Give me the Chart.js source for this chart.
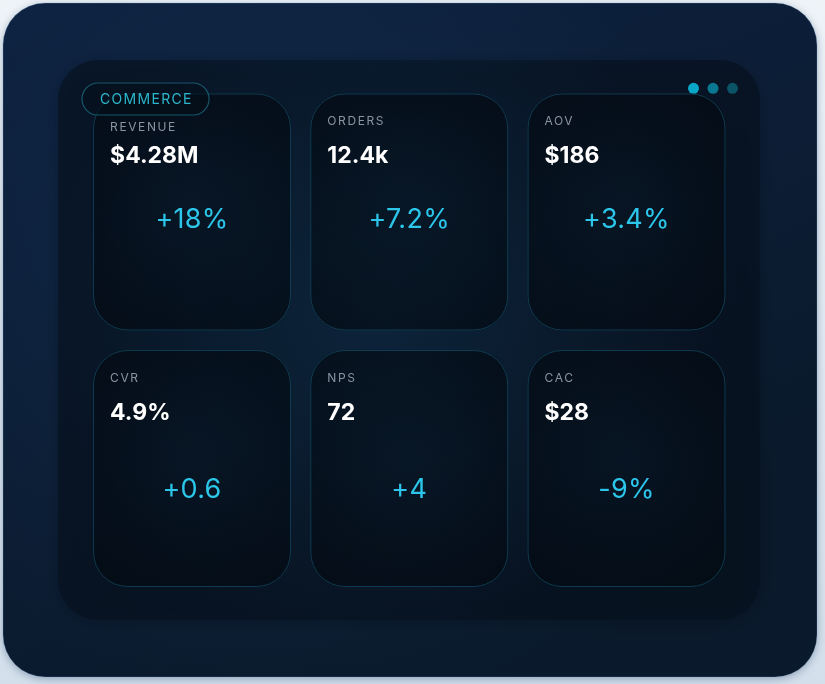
<!DOCTYPE html>
<html>
<head>
<meta charset="utf-8">
<script src="https://cdn.jsdelivr.net/npm/chart.js@4.4.1/dist/chart.umd.min.js"></script>
<style>
  html, body { margin: 0; padding: 0; background: #dfe8f1; }
  #wrap { width: 825px; height: 684px; position: relative; }
  canvas { display: block; }
</style>
</head>
<body>
<div id="wrap"><canvas id="c" width="825" height="684"></canvas></div>
<script>
// ---- data ----
const groupTitle = "COMMERCE";
const metricNames = ["REVENUE", "ORDERS", "AOV", "CVR", "NPS", "CAC"];
const metricValues = ["$4.28M", "12.4k", "$186", "4.9%", "72", "$28"];
const metricDeltas = ["+18%", "+7.2%", "+3.4%", "+0.6", "+4", "-9%"];
const gridCols = [0, 1, 2, 0, 1, 2];
const gridRows = [0, 0, 0, 1, 1, 1];

// ---- layout / style constants ----
const CARD_W = 0.911, CARD_H = 0.924, CARD_R = 34;
const labelShift = [6, 0, 0, 0, 0, 0];
const deltaShiftRow = [7.5, 21];

function rr(ctx, x, y, w, h, r) {
  ctx.beginPath();
  ctx.moveTo(x + r, y);
  ctx.arcTo(x + w, y, x + w, y + h, r);
  ctx.arcTo(x + w, y + h, x, y + h, r);
  ctx.arcTo(x, y + h, x, y, r);
  ctx.arcTo(x, y, x + w, y, r);
  ctx.closePath();
}

const backdrop = {
  id: 'backdrop',
  beforeDraw(chart) {
    const ctx = chart.ctx;
    ctx.save();
    const pg = ctx.createLinearGradient(0, 0, 0, 684);
    pg.addColorStop(0, '#eef3f8'); pg.addColorStop(1, '#d3dfeb');
    ctx.fillStyle = pg; ctx.fillRect(0, 0, 825, 684);
    ctx.shadowColor = 'rgba(20,50,90,0.35)'; ctx.shadowBlur = 8; ctx.shadowOffsetY = 2;
    const og = ctx.createLinearGradient(0, 0, 300, 684);
    og.addColorStop(0, '#0e2342'); og.addColorStop(1, '#0a192b');
    rr(ctx, 3, 3, 814, 674, 42);
    ctx.fillStyle = og; ctx.fill();
    ctx.shadowColor = 'transparent';
    ctx.strokeStyle = 'rgba(140,180,220,0.25)'; ctx.lineWidth = 1; ctx.stroke();
    ctx.save();
    rr(ctx, 3, 3, 814, 674, 42); ctx.clip();
    const gl = ctx.createRadialGradient(330, 330, 10, 330, 330, 420);
    gl.addColorStop(0, 'rgba(30,80,120,0.2)'); gl.addColorStop(1, 'rgba(30,80,120,0)');
    ctx.fillStyle = gl; ctx.fillRect(0, 0, 825, 684);
    ctx.restore();
    ctx.shadowColor = 'rgba(0,0,0,0.35)'; ctx.shadowBlur = 14;
    rr(ctx, 58, 60, 702, 560, 40);
    ctx.fillStyle = 'rgba(7,16,30,0.6)'; ctx.fill();
    ctx.shadowColor = 'transparent';
    ctx.save();
    rr(ctx, 58, 60, 702, 560, 40); ctx.clip();
    const pgl = ctx.createRadialGradient(380, 310, 10, 380, 310, 330);
    pgl.addColorStop(0, 'rgba(25,75,115,0.25)'); pgl.addColorStop(1, 'rgba(25,75,115,0)');
    ctx.fillStyle = pgl; ctx.fillRect(0, 0, 825, 684);
    ctx.restore();
    const dotCols = ['#0aa6c8', '#0b7891', '#0b5468'];
    [693.5, 713, 732.5].forEach((x, i) => {
      ctx.beginPath(); ctx.arc(x, 88.3, 5.5, 0, Math.PI * 2);
      ctx.fillStyle = dotCols[i]; ctx.fill();
    });
    ctx.restore();
  }
};

const cards = {
  id: 'cards',
  afterDatasetsDraw(chart) {
    const ctx = chart.ctx;
    const xs = chart.scales.x, ys = chart.scales.y;
    const meta = chart.getDatasetMeta(0);
    const colW = Math.abs(xs.getPixelForValue(1) - xs.getPixelForValue(0));
    const rowH = Math.abs(ys.getPixelForValue(1) - ys.getPixelForValue(0));
    const w = colW * CARD_W, h = rowH * CARD_H;
    ctx.save();
    meta.data.forEach((pt, i) => {
      const cx = pt.x, cy = pt.y;
      const x0 = cx - w / 2, y0 = cy - h / 2;
      rr(ctx, x0, y0, w, h, CARD_R);
      ctx.fillStyle = 'rgba(3,9,17,0.66)'; ctx.fill();
      ctx.save(); ctx.clip();
      const g = ctx.createRadialGradient(cx, cy - 10, 5, cx, cy, h * 0.6);
      g.addColorStop(0, 'rgba(20,55,85,0.18)'); g.addColorStop(1, 'rgba(20,55,85,0)');
      ctx.fillStyle = g; ctx.fillRect(x0, y0, w, h);
      ctx.restore();
      rr(ctx, x0 + 0.5, y0 + 0.5, w - 1, h - 1, CARD_R);
      ctx.strokeStyle = 'rgba(22,88,115,0.6)'; ctx.lineWidth = 1; ctx.stroke();
    });
    rr(ctx, 82, 83, 127, 32, 16);
    ctx.fillStyle = 'rgba(4,14,24,0.55)'; ctx.fill();
    ctx.strokeStyle = 'rgba(28,110,130,0.75)'; ctx.lineWidth = 1.2; ctx.stroke();
    ctx.fillStyle = '#2cb6cb';
    ctx.font = '400 14px Inter, "Noto Sans", sans-serif';
    ctx.letterSpacing = '1.3px';
    ctx.textBaseline = 'middle'; ctx.textAlign = 'left';
    ctx.fillText(groupTitle, 100, 99.5);

    meta.data.forEach((pt, i) => {
      const cx = pt.x, cy = pt.y;
      const x0 = cx - w / 2, y0 = cy - h / 2;
      const row = gridRows[i];
      ctx.textAlign = 'left'; ctx.textBaseline = 'middle';
      ctx.fillStyle = '#8a94a0';
      ctx.font = '400 12px Inter, "Noto Sans", sans-serif';
      ctx.letterSpacing = '1.6px';
      ctx.fillText(metricNames[i], x0 + 17, y0 + 28 + labelShift[i]);
      ctx.fillStyle = '#ffffff';
      ctx.font = '700 23px Inter, "Noto Sans", sans-serif';
      ctx.letterSpacing = '0px';
      ctx.fillText(metricValues[i], x0 + 17, y0 + 63);
      ctx.textAlign = 'center';
      ctx.fillStyle = '#2bc6ea';
      ctx.font = '400 27px Inter, "Noto Sans", sans-serif';
      ctx.letterSpacing = '0.3px';
      ctx.fillText(metricDeltas[i], cx, cy + deltaShiftRow[row]);
    });
    ctx.restore();
  }
};

new Chart(document.getElementById('c'), {
  type: 'scatter',
  data: {
    datasets: [{
      data: metricNames.map((n, i) => ({ x: gridCols[i], y: gridRows[i] })),
      pointRadius: 0, pointHoverRadius: 0
    }]
  },
  options: {
    responsive: false,
    animation: false,
    devicePixelRatio: 1,
    layout: { padding: { left: 83.4, right: 89.9, top: 83.75, bottom: 87.25 } },
    plugins: { legend: { display: false }, tooltip: { enabled: false } },
    scales: {
      x: { type: 'linear', min: -0.5, max: 2.5, display: false },
      y: { type: 'linear', min: -0.5, max: 1.5, reverse: true, display: false }
    }
  },
  plugins: [backdrop, cards]
});
</script>
</body>
</html>
